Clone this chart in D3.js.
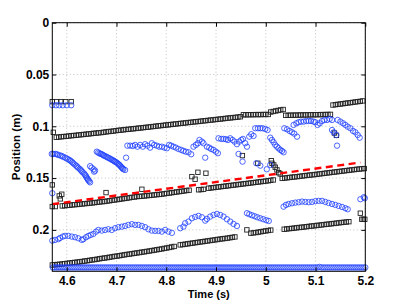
<!DOCTYPE html>
<html><head><meta charset="utf-8">
<script src="https://cdn.jsdelivr.net/npm/d3@7"></script>
<style>
html,body{margin:0;padding:0;background:#fff;}
svg{display:block;}
text{font-family:"Liberation Sans",Arial,Helvetica,sans-serif;font-weight:bold;fill:#000;}
</style></head>
<body>
<svg id="chart" width="405" height="304"></svg>
<script>
// ---------- DATA ----------
const xTicks = [4.6, 4.7, 4.8, 4.9, 5.0, 5.1, 5.2];
const yTicks = [0, 0.05, 0.1, 0.15, 0.2];
const xTitle = "Time (s)";
const yTitle = "Position (m)";
const sampleStep = 0.005; // s, spacing of tracked samples

// black square tracks (positions, m), each starting at the matching entry of sqStarts
const sqA1 = [0.1106,0.1104,0.1101,0.1099,0.1097,0.1094,0.1091,0.1089,0.1087,0.1084,
  0.1081,0.1079,0.1076,0.1074,0.1071,0.1068,0.1066,0.1063,0.1061,0.1058,
  0.1054,0.1051,0.1049,0.1046,0.1042,0.1039,0.1037,0.1034,0.1031,0.1029,
  0.1026,0.1024,0.1021,0.1018,0.1016,0.1013,0.1010,0.1008,0.1005,0.1002,
  0.0999,0.0996,0.0994,0.0991,0.0988,0.0986,0.0983,0.0980,0.0978,0.0975,
  0.0972,0.0970,0.0967,0.0964,0.0962,0.0959,0.0956,0.0954,0.0951,0.0948,
  0.0946,0.0943,0.0940,0.0938,0.0935,0.0932,0.0930,0.0927,0.0924,0.0921,
  0.0919,0.0916,0.0914,0.0911,0.0908];
const sqA2 = [0.0889,0.0889,0.0888,0.0888,0.0888,0.0887,0.0887,0.0887,0.0886,0.0886,0.0886];
const sqA3 = [0.0862,0.0857,0.0852,0.0847,0.0842,0.0838];
const sqA4 = [0.0894,0.0894,0.0893,0.0893,0.0892,0.0892,0.0891,0.0891,0.0890,0.0890,
  0.0889,0.0889,0.0888,0.0888,0.0887,0.0887,0.0886,0.0886,0.0885];
const sqA5 = [0.0795,0.0791,0.0788,0.0785,0.0782,0.0778,0.0775,0.0772,0.0769,0.0765,0.0762,0.0759,0.0755];
const sqB1 = [0.1769,0.1767,0.1764,0.1762,0.1759,0.1757,0.1755,0.1752,0.1750,0.1747,
  0.1745,0.1742,0.1740,0.1737,0.1734,0.1731,0.1728,0.1726,0.1722,0.1719,
  0.1715,0.1712,0.1708,0.1704,0.1701,0.1697,0.1694,0.1690,0.1686,0.1683,
  0.1679,0.1677,0.1675,0.1673,0.1670,0.1668,0.1665,0.1663,0.1660,0.1658,
  0.1655,0.1652,0.1648,0.1645,0.1641,0.1638,0.1634,0.1631,0.1627,0.1624,
  0.1620,0.1617];
const sqB2 = [0.1613,0.1611,0.1608];
const sqB3 = [0.1598,0.1595,0.1592,0.1589,0.1586,0.1583,0.1580,0.1577,0.1574,0.1571,
  0.1568,0.1565,0.1562,0.1559,0.1556,0.1553,0.1550,0.1547,0.1544,0.1541,
  0.1538,0.1535,0.1532,0.1529,0.1526,0.1522,0.1518];
const sqB5 = [0.1503,0.1500,0.1497,0.1494,0.1491,0.1489,0.1486,0.1483,0.1480,0.1477,
  0.1474,0.1471,0.1469,0.1466,0.1463,0.1460,0.1457,0.1454,0.1451,0.1448,
  0.1445,0.1442,0.1439,0.1436,0.1433,0.1430,0.1427,0.1424,0.1421,0.1418,
  0.1415,0.1413,0.1410,0.1408];
const sqC1 = [0.2339,0.2337,0.2334,0.2332,0.2329,0.2326,0.2323,0.2320,0.2317,0.2314,
  0.2311,0.2308,0.2305,0.2301,0.2298,0.2294,0.2290,0.2287,0.2283,0.2279,
  0.2275,0.2272,0.2268,0.2264,0.2260,0.2256,0.2253,0.2249,0.2245,0.2241,
  0.2237,0.2234,0.2230,0.2226,0.2223,0.2219,0.2215,0.2212,0.2208,0.2204,
  0.2200,0.2196,0.2192,0.2188,0.2184,0.2179,0.2175,0.2170,0.2165,0.2160];
const sqC2 = [0.2145,0.2142,0.2138,0.2135,0.2131,0.2128,0.2124,0.2121,0.2117,0.2114,
  0.2110,0.2107,0.2103,0.2100,0.2096,0.2093,0.2089,0.2086,0.2083,0.2080,
  0.2076,0.2072,0.2068];
const sqC3 = [0.2032,0.2029,0.2026,0.2022,0.2018,0.2014,0.2010,0.2006,0.2002];
const sqC4 = [0.1994,0.1991,0.1988,0.1986,0.1983,0.1980,0.1977,0.1975,0.1972,0.1969,
  0.1966,0.1963,0.1961,0.1958,0.1955,0.1952,0.1949,0.1946,0.1944,0.1941,
  0.1938,0.1935,0.1932,0.1929,0.1927,0.1924,0.1921];
const sqTracks = [sqA1, sqA2, sqA3, sqA4, sqA5, sqB1, sqB2, sqB3, sqB5, sqC1, sqC2, sqC3, sqC4];
const sqStarts = [4.579, 4.955, 5.010, 5.040, 5.135, 4.591, 4.865, 4.885, 5.033, 4.571, 4.828, 4.970, 5.037];

// isolated black squares
const sqLooseT = [4.573, 4.571, 4.580, 4.588, 4.598, 4.609, 4.571, 4.571, 4.577, 4.585, 4.590, 4.587,
  4.679, 4.751, 4.8515, 4.858, 4.8636, 4.8797, 4.953, 4.984,
  5.011, 5.0125, 5.016, 5.019, 5.0225, 5.026, 5.029, 5.138, 5.142, 4.962,
  5.190, 5.193, 5.196, 5.199];
const sqLooseV = [0.1058, 0.0762, 0.0762, 0.0762, 0.0762, 0.0762, 0.1566, 0.1775, 0.1775, 0.1672, 0.1656, 0.1701,
  0.1640, 0.1608, 0.1486, 0.1511, 0.1444, 0.1453, 0.1283, 0.1357,
  0.1332, 0.1357, 0.1373, 0.1395, 0.1421, 0.1448, 0.1460, 0.1065, 0.1088, 0.2000,
  0.1839, 0.1898, 0.1898, 0.1898];

// blue circles (upper and middle bands)
const circUpperT = [4.571,4.5785,4.585,4.592,4.600,4.609, 4.571,
  4.570,4.573,4.577,4.580,4.583,4.587,4.590,4.593,4.597,4.600,4.603,4.606,4.608,4.611,4.613,4.616,4.619,4.621,4.623,4.626,4.628,4.630,4.632,4.635,4.637,4.639,4.640,4.642,4.643,4.645,4.647,
  4.647,4.650,4.654,4.657,4.655,
  4.6604,4.663,4.6656,4.668,4.6704,4.673,4.6751,4.678,4.6805,4.683,4.6858,4.688,4.6906,4.693,4.6952,4.697,4.6992,4.7015,4.7038,4.7055,4.7072,4.709,4.7107,4.7123,4.7139,4.7173,4.7193,
  4.7219,4.7274,4.7328,4.7374,4.7420,4.7475,4.7529,4.7575,4.7622,4.7676,4.7710,4.7756,4.7811,
  4.7857,4.7911,4.7964,4.8012,4.8058,4.8099,4.8145,4.8193,4.8245,4.8300,4.8346,4.8394,4.8447,4.8501,
  4.8547,4.8595,4.8636,4.8668,4.8716,4.8748,4.8783,
  4.8817,4.8863,4.8903,4.8950,4.8998,4.9038,
  4.9050,4.9105,4.9151,4.9199,4.9239,4.9286,4.9332,4.9372,4.9420,4.9467,4.9507,4.9541,4.9587,4.9622,4.9668,4.9708,4.9754,4.9789,4.9843,4.9889,4.9936,
  4.9453,4.9533,4.981,4.989,5.002,5.009,
  4.9990,5.0036,
  5.0090,5.0124,5.0157,5.0191,5.0225,5.0257,5.0292,5.0326,5.0358,
  5.0372,5.0426,5.0479,5.0527,5.0573,5.0628,
  5.0559,5.0614,5.0660,5.0708,5.0761,5.0815,5.0862,5.0910,5.0962,5.0996,5.1042,5.1083,5.1131,5.1177,5.1232,5.1284,5.1332,
  5.1332,5.1364,5.1418,5.1432,
  5.1444,5.1499,5.1553,5.1599,5.1646,5.1700,5.1754,5.1801,5.1847,5.1887];
const circUpperV = [0.0797,0.0797,0.0797,0.0797,0.0797,0.0797, 0.1646,
  0.1267,0.1267,0.1267,0.1270,0.1277,0.1282,0.1287,0.1295,0.1303,0.1311,0.1319,0.1327,0.1335,0.1346,0.1357,0.1369,0.1380,0.1390,0.1400,0.1411,0.1422,0.1433,0.1444,0.1457,0.1470,0.1483,0.1496,0.1507,0.1518,0.1530,0.1541,
  0.1385,0.1400,0.1415,0.1428,0.1438,
  0.1245,0.1253,0.1261,0.1265,0.1270,0.1277,0.1284,0.1290,0.1296,0.1303,0.1309,0.1316,0.1322,0.1329,0.1335,0.1341,0.1347,0.1355,0.1364,0.1372,0.1380,0.1390,0.1399,0.1407,0.1415,0.1422,0.1303,
  0.1187,0.1187,0.1190,0.1180,0.1197,0.1180,0.1197,0.1173,0.1187,0.1206,0.1164,0.1180,0.1187,
  0.1197,0.1197,0.1206,0.1212,0.1180,0.1187,0.1197,0.1206,0.1219,0.1228,0.1238,0.1245,0.1251,0.1270,
  0.1197,0.1180,0.1164,0.1132,0.1148,0.1164,0.1303,
  0.1197,0.1206,0.1219,0.1228,0.1245,0.1260,
  0.1116,0.1122,0.1122,0.1125,0.1132,0.1116,0.1132,0.1148,0.1173,0.1148,0.1132,0.1122,0.1164,0.1197,0.1100,0.1077,0.1093,0.1019,0.1019,0.1019,0.1019,
  0.1267,0.1341,0.1357,0.1380,0.1415,0.1373,
  0.1026,0.1036,
  0.1110,0.1132,0.1154,0.1180,0.1197,0.1212,0.1228,0.1238,0.1251,
  0.1019,0.1029,0.1045,0.1058,0.1071,0.1100,
  0.0987,0.0971,0.0961,0.0955,0.0955,0.0949,0.0949,0.0949,0.0955,0.0961,0.0987,0.0971,0.0949,0.0939,0.0939,0.0929,0.0939,
  0.1036,0.1058,0.1084,0.1187,
  0.0939,0.0955,0.0971,0.0987,0.1004,0.1019,0.1045,0.1058,0.1084,0.1110];

// blue circles (lower wavy band)
const circLowerT = [4.5710,4.5765,4.5831,4.5865,4.5920,4.5966,4.6032,4.6101,4.6168,4.6233,4.6302,4.6334,4.6388,4.6435,4.6483,4.6535,4.6590,4.6636,4.6704,4.6771,4.6837,4.6905,4.6972,4.7038,4.7107,4.7173,4.7239,4.7308,4.7374,4.7441,4.7509,4.7575,4.7642,4.7710,4.7777,4.7843,4.7911,4.7978,4.8044,4.8113,
  4.8280,4.8346,4.8380,4.8447,4.8515,4.8581,4.8648,4.8716,4.8783,4.8817,4.8883,4.8950,4.9018,4.9084,4.9151,4.9219,4.9286,4.9352,4.9420,
  4.9622,4.9668,4.9722,4.9775,4.9829,4.9889,4.9950,5.0010,5.0060,
  5.0358,5.0406,5.0459,5.0527,5.0594,5.0660,5.0728,5.0795,5.0861,5.0930,5.0996,5.1063,5.1131,5.1197,5.1263,5.1332,5.1398,5.1465,5.1533,5.1599,5.1646,
  5.1901,5.1968,5.1990];
const circLowerV = [0.2104,0.2097,0.2090,0.2078,0.2065,0.2058,0.2058,0.2065,0.2071,0.2081,0.2097,0.2090,0.2071,0.2058,0.2049,0.2039,0.2017,0.2001,0.2007,0.2001,0.1994,0.2001,0.1984,0.1974,0.1969,0.1962,0.1952,0.1945,0.1952,0.1952,0.1962,0.1974,0.1994,0.2007,0.2010,0.2010,0.2017,0.2001,0.2017,0.2029,
  0.1984,0.1969,0.1936,0.1920,0.1888,0.1875,0.1865,0.1878,0.1911,0.1894,0.1872,0.1856,0.1846,0.1856,0.1872,0.1897,0.1920,0.1943,0.1962,
  0.1839,0.1849,0.1859,0.1868,0.1878,0.1888,0.1897,0.1907,0.1914,
  0.1776,0.1759,0.1750,0.1743,0.1737,0.1733,0.1727,0.1730,0.1733,0.1730,0.1723,0.1720,0.1720,0.1730,0.1740,0.1750,0.1759,0.1769,0.1779,0.1791,0.1801,
  0.1704,0.1685,0.1694];

// blue circles along the bottom (floor), sampled every 0.004 s from 4.572 s
const floorStart = 4.572, floorStep = 0.004;
const floorV = [
  0.2363,0.2363,0.2363,0.2363,0.2363,0.2363,0.2363,0.2363,0.2363,0.2363,
  0.2363,0.2363,0.2363,0.2363,0.2363,0.2363,0.2363,0.2363,0.2363,0.2363,
  0.2363,0.2363,0.2363,0.2363,0.2363,0.2363,0.2363,0.2363,0.2363,0.2363,
  0.2363,0.2363,0.2363,0.2363,0.2363,0.2363,0.2363,0.2363,0.2363,0.2363,
  0.2363,0.2363,0.2363,0.2363,0.2363,0.2363,0.2363,0.2363,0.2363,0.2363,
  0.2363,0.2363,0.2363,0.2363,0.2363,0.2363,0.2363,0.2363,0.2363,0.2363,
  0.2363,0.2363,0.2363,0.2363,0.2363,0.2363,0.2363,0.2363,0.2363,0.2363,
  0.2363,0.2363,0.2363,0.2363,0.2363,0.2363,0.2363,0.2363,0.2363,0.2363,
  0.2363,0.2363,0.2363,0.2363,0.2363,0.2363,0.2363,0.2363,0.2363,0.2363,
  0.2363,0.2363,0.2363,0.2363,0.2363,0.2363,0.2363,0.2363,0.2363,0.2363,
  0.2363,0.2363,0.2363,0.2363,0.2363,0.2363,0.2363,0.2363,0.2363,0.2363,
  0.2363,0.2363,0.2363,0.2363,0.2363,0.2363,0.2363,0.2363,0.2363,0.2363,
  0.2363,0.2363,0.2363,0.2363,0.2363,0.2363,0.2363,0.2363,0.2363,0.2363,
  0.2363,0.2363,0.2363,0.2363,0.2358,0.2363,0.2363,0.2363,0.2363,0.2363,
  0.2363,0.2363,0.2363,0.2363,0.2363,0.2363,0.2363,0.2363,0.2363,0.2363,
  0.2363,0.2363,0.2363,0.2363,0.2363,0.2363,0.2363,0.2363];

// red dashed reference line
const redT = [4.571, 5.190];
const redV = [0.1752, 0.1350];

// ---------- CHART ----------
const m = {left: 52.3, right: 365.3, top: 22.7, bottom: 271.3};
const svg = d3.select("#chart");
const x = d3.scaleLinear().domain([4.571, 5.2]).range([m.left, m.right]);
const y = d3.scaleLinear().domain([0, 0.24]).range([m.top, m.bottom]);

// grid
const grid = svg.append("g").attr("stroke", "#b4b4b4").attr("stroke-width", 0.8).attr("stroke-dasharray", "1,2.5");
grid.selectAll("line.gx").data(xTicks).join("line")
  .attr("x1", d => x(d)).attr("x2", d => x(d)).attr("y1", m.top).attr("y2", m.bottom);
grid.selectAll("line.gy").data(yTicks).join("line")
  .attr("x1", m.left).attr("x2", m.right).attr("y1", d => y(d)).attr("y2", d => y(d));

// squares
const sqData = [];
sqTracks.forEach((arr, k) => arr.forEach((v, i) => sqData.push([sqStarts[k] + i * sampleStep, v])));
sqLooseT.forEach((t, i) => sqData.push([t, sqLooseV[i]]));
const s = 4.4;
svg.append("g").selectAll("rect").data(sqData).join("rect")
  .attr("x", d => x(d[0]) - s / 2).attr("y", d => y(d[1]) - s / 2)
  .attr("width", s).attr("height", s)
  .attr("fill", "none").attr("stroke", "#222").attr("stroke-width", 0.9);

// circles
const cData = [];
circUpperT.forEach((t, i) => cData.push([t, circUpperV[i]]));
circLowerT.forEach((t, i) => cData.push([t, circLowerV[i]]));
floorV.forEach((v, i) => cData.push([Math.min(floorStart + i * floorStep, 5.2), v]));
svg.append("g").selectAll("circle").data(cData).join("circle")
  .attr("cx", d => x(d[0])).attr("cy", d => y(d[1])).attr("r", 2.7)
  .attr("fill", "none").attr("stroke", "#2040ff").attr("stroke-width", 0.8);

// red dashed line
svg.append("path").datum(redT.map((t, i) => [t, redV[i]]))
  .attr("d", d3.line().x(d => x(d[0])).y(d => y(d[1])))
  .attr("fill", "none").attr("stroke", "#ff0000").attr("stroke-width", 2.4)
  .attr("stroke-dasharray", "7,4.5");

// axes
const fmt = d => String(+d.toFixed(2));
const ax = svg.append("g");
ax.append("g").attr("transform", `translate(0,${m.bottom})`)
  .call(d3.axisBottom(x).tickValues(xTicks).tickFormat(fmt).tickSize(-4).tickPadding(5));
ax.append("g").attr("transform", `translate(0,${m.top})`)
  .call(d3.axisTop(x).tickValues(xTicks).tickFormat("").tickSize(-4));
ax.append("g").attr("transform", `translate(${m.left},0)`)
  .call(d3.axisLeft(y).tickValues(yTicks).tickFormat(fmt).tickSize(-4).tickPadding(3));
ax.append("g").attr("transform", `translate(${m.right},0)`)
  .call(d3.axisRight(y).tickValues(yTicks).tickFormat("").tickSize(-4));
ax.selectAll(".domain").remove();
ax.selectAll(".tick line").attr("stroke", "#000").attr("stroke-width", 1);
ax.selectAll(".tick text").attr("font-size", 12).attr("font-weight", "bold")
  .attr("font-family", "'Liberation Sans', Arial, sans-serif").attr("fill", "#000");
svg.append("rect").attr("x", m.left).attr("y", m.top)
  .attr("width", m.right - m.left).attr("height", m.bottom - m.top)
  .attr("fill", "none").attr("stroke", "#000").attr("stroke-width", 1);

// titles
svg.append("text").attr("x", (m.left + m.right) / 2).attr("y", 297.8)
  .attr("text-anchor", "middle").attr("font-size", 11).text(xTitle);
svg.append("text").attr("transform", `translate(19.5,${(m.top + m.bottom) / 2}) rotate(-90)`)
  .attr("text-anchor", "middle").attr("font-size", 11.5).text(yTitle);
</script>
</body></html>
